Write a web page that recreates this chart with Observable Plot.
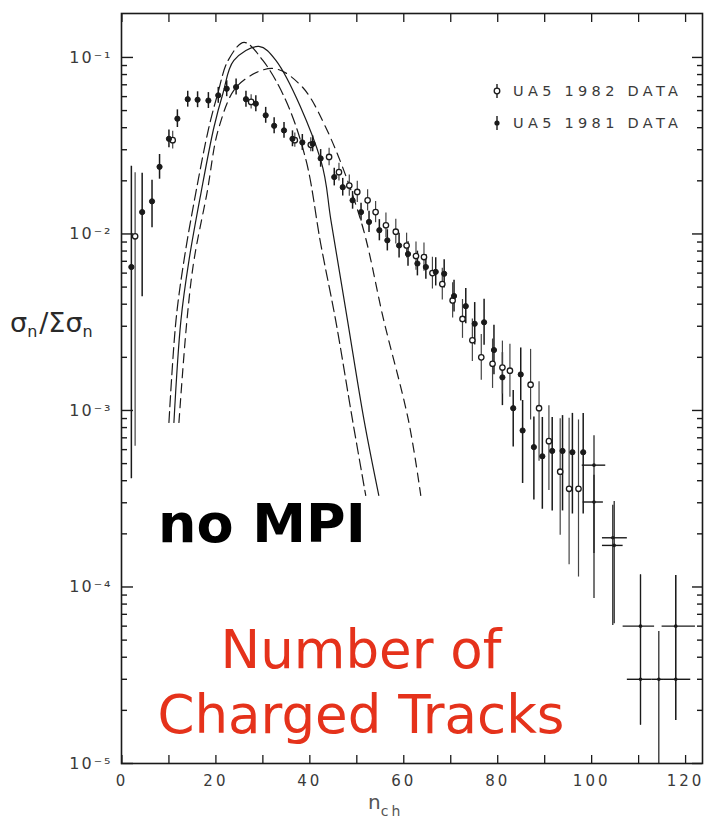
<!DOCTYPE html>
<html><head><meta charset="utf-8">
<script src="https://cdn.jsdelivr.net/npm/d3@7"></script>
<script src="https://cdn.jsdelivr.net/npm/@observablehq/plot@0.6"></script>
<style>body{margin:0;background:#fff;} svg{display:block;}</style>
</head><body><div id="chart"></div>
<script>
// ---- UA5 1981 data (filled points): n_ch, sigma_n/sum, error down / up (in decades)
const n81 = [2, 4.3, 6.4, 8, 10, 11.8, 14, 16.1, 18.4, 20.5, 22.3, 24.3, 26.4, 28.5, 30.6, 32.4, 34.5, 36.3, 38.4, 40.6, 42.3, 45.2, 47, 49.1, 50.9, 52.6, 54.8, 56.5, 59, 60.9, 62.9, 64.7, 66.8, 68.6, 70.7, 73.2, 75.1, 77.1, 79.2, 81, 83.3, 84.9, 85.3, 87.7, 89.5, 91.6, 93.8, 95.9, 98.2];
const v81 = [6.5e-3, 1.33e-2, 1.53e-2, 2.4e-2, 3.46e-2, 4.5e-2, 5.8e-2, 5.76e-2, 5.7e-2, 6.1e-2, 6.65e-2, 6.8e-2, 5.8e-2, 5.47e-2, 4.7e-2, 4.1e-2, 3.86e-2, 3.46e-2, 3.3e-2, 3.24e-2, 2.68e-2, 2.1e-2, 1.84e-2, 1.55e-2, 1.33e-2, 1.17e-2, 1.05e-2, 9.2e-3, 8.6e-3, 7.7e-3, 6.8e-3, 6.5e-3, 6.1e-3, 5.95e-3, 4.45e-3, 3.9e-3, 3.1e-3, 3.16e-3, 2.2e-3, 1.54e-3, 1.03e-3, 1.6e-3, 7.7e-4, 6.2e-4, 5.5e-4, 5.9e-4, 5.9e-4, 5.8e-4, 5.8e-4];
const eLo81 = [1.2, 0.48, 0.15, 0.07, 0.05, 0.05, 0.045, 0.045, 0.045, 0.045, 0.045, 0.045, 0.045, 0.045, 0.045, 0.045, 0.045, 0.045, 0.045, 0.045, 0.05, 0.05, 0.05, 0.05, 0.05, 0.06, 0.06, 0.06, 0.07, 0.07, 0.07, 0.07, 0.08, 0.08, 0.09, 0.1, 0.12, 0.13, 0.14, 0.16, 0.22, 0.15, 0.3, 0.3, 0.3, 0.34, 0.34, 0.35, 0.35];
const eHi81 = [0.57, 0.22, 0.12, 0.07, 0.05, 0.05, 0.045, 0.045, 0.045, 0.045, 0.045, 0.045, 0.045, 0.045, 0.045, 0.045, 0.045, 0.045, 0.045, 0.045, 0.05, 0.05, 0.05, 0.05, 0.05, 0.06, 0.06, 0.06, 0.07, 0.07, 0.07, 0.07, 0.08, 0.08, 0.09, 0.1, 0.12, 0.13, 0.14, 0.14, 0.1, 0.15, 0.17, 0.17, 0.22, 0.19, 0.2, 0.22, 0.22];

// ---- UA5 1982 data (open points)
const n82 = [2.8, 10.8, 27.5, 36.8, 40.2, 44.1, 46.2, 48.4, 50.1, 52.3, 54, 56.2, 58.3, 60.6, 62.6, 64.3, 66.1, 68.2, 70.4, 72.5, 74.6, 76.5, 78.9, 81, 82.6, 87, 88.8, 90.9, 93.3, 95.2, 97.2];
const v82 = [9.7e-3, 3.4e-2, 5.6e-2, 3.4e-2, 3.2e-2, 2.73e-2, 2.24e-2, 1.88e-2, 1.73e-2, 1.55e-2, 1.33e-2, 1.12e-2, 1.03e-2, 8.6e-3, 7.5e-3, 7.4e-3, 6.0e-3, 5.2e-3, 4.2e-3, 3.3e-3, 2.5e-3, 2.0e-3, 1.84e-3, 1.75e-3, 1.68e-3, 1.4e-3, 1.03e-3, 6.7e-4, 4.5e-4, 3.6e-4, 3.6e-4];
const eLo82 = [1.19, 0.05, 0.04, 0.04, 0.04, 0.05, 0.05, 0.06, 0.06, 0.06, 0.06, 0.07, 0.07, 0.07, 0.08, 0.08, 0.09, 0.09, 0.1, 0.11, 0.12, 0.13, 0.14, 0.15, 0.15, 0.2, 0.3, 0.28, 0.36, 0.43, 0.5];
const eHi82 = [0.36, 0.05, 0.04, 0.04, 0.04, 0.05, 0.05, 0.06, 0.06, 0.06, 0.06, 0.07, 0.07, 0.07, 0.08, 0.08, 0.09, 0.09, 0.1, 0.11, 0.12, 0.13, 0.14, 0.15, 0.15, 0.2, 0.15, 0.2, 0.3, 0.4, 0.39];

// ---- wide-bin points at high multiplicity (value, bin edges, error range)
const nW   = [100.5, 100.5, 104.5, 104.8, 110.4, 117.9, 110.4, 114.3, 117.9];
const vW   = [4.9e-4, 3.03e-4, 1.9e-4, 1.72e-4, 6.0e-5, 6.0e-5, 3.0e-5, 3.0e-5, 3.0e-5];
const nWlo = [98, 98.2, 102.3, 102.3, 106.7, 115.0, 107.6, 112.9, 115.3];
const nWhi = [103, 102.5, 107.6, 106.7, 113.4, 122.1, 112.9, 115.3, 121.1];
const vWlo = [1.55e-4, 8.6e-5, 6.05e-5, 6.2e-5, 1.65e-5, 1.75e-5, 1.65e-5, 1.0e-5, 1.75e-5];
const vWhi = [7.2e-4, 4.3e-4, 2.9e-4, 3.05e-4, 1.17e-4, 1.16e-4, 1.17e-4, 5.6e-5, 1.16e-4];

// ---- model curves (no MPI)
const curveAn = [10.0, 11.5, 13.2, 15.7, 18.5, 20.4, 22.6, 26.0, 30.0, 34.9, 39.2, 42.3, 45.5, 49.1, 51.9];
const curveAv = [8.55e-4, 3.24e-3, 7.07e-3, 1.70e-2, 4.01e-2, 6.25e-2, 9.62e-2, 0.1216, 0.0962, 0.057, 0.0261, 8.83e-3, 3.24e-3, 8.78e-4, 3.30e-4];
const curveBn = [11.06, 12.55, 14.26, 16.81, 19.57, 21.49, 23.83, 29.15, 32.77, 42.34, 44.5, 48.02, 51.55, 54.68];
const curveBv = [8.55e-4, 3.24e-3, 7.07e-3, 1.70e-2, 4.01e-2, 6.25e-2, 9.62e-2, 0.1154, 0.0962, 0.0261, 0.0119, 3.24e-3, 8.78e-4, 3.30e-4];
const curveCn = [12.13, 13.83, 15.32, 18.09, 20.64, 24.68, 32.1, 38.09, 43.4, 50.85, 55.74, 61.0, 63.62];
const curveCv = [8.55e-4, 3.24e-3, 7.07e-3, 1.70e-2, 4.01e-2, 6.94e-2, 0.0866, 0.0694, 0.0401, 0.01193, 3.24e-3, 8.78e-4, 3.30e-4];

// ---- ticks
const xTicks = [0, 10, 20, 30, 40, 50, 60, 70, 80, 90, 100, 110, 120];
const xLabels = [0, 20, 40, 60, 80, 100, 120];
const yMajor = [1e-5, 1e-4, 1e-3, 1e-2, 1e-1];
const yMinor = [];
for (const d of [1e-5, 1e-4, 1e-3, 1e-2, 1e-1]) for (let k = 2; k <= 9; k++) if (d * k < 0.177) yMinor.push(d * k);

// ---- build tables
const d81 = n81.map((n, i) => ({n, v: v81[i], lo: v81[i] / 10 ** eLo81[i], hi: v81[i] * 10 ** eHi81[i]}));
const d82 = n82.map((n, i) => ({n, v: v82[i], lo: v82[i] / 10 ** eLo82[i], hi: v82[i] * 10 ** eHi82[i]}));
const dW = nW.map((n, i) => ({n, v: vW[i], nlo: nWlo[i], nhi: nWhi[i], lo: vWlo[i], hi: vWhi[i]}));
const cA = curveAn.map((n, i) => ({n, v: curveAv[i]}));
const cB = curveBn.map((n, i) => ({n, v: curveBv[i]}));
const cC = curveCn.map((n, i) => ({n, v: curveCv[i]}));

const W = 708, H = 824, mL = 121, mR = 6, mT = 13, mB = 61;
const pw = W - mL - mR, ph = H - mT - mB;
const sup = {"-": "⁻", "0": "⁰", "1": "¹", "2": "²", "3": "³", "4": "⁴", "5": "⁵"};
const ink = "#1a1a1a";

const svg = Plot.plot({
  width: W, height: H,
  marginLeft: mL, marginRight: mR, marginTop: mT, marginBottom: mB,
  style: {fontFamily: "DejaVu Sans", background: "#fff", color: "#333"},
  x: {domain: [-0.1, 123.6]},
  y: {type: "log", domain: [1e-5, 0.1774]},
  marks: [
    // model curves
    Plot.line(cA, {x: "n", y: "v", curve: "catmull-rom", stroke: ink, strokeWidth: 1.2, strokeDasharray: "11,5", clip: true}),
    Plot.line(cB, {x: "n", y: "v", curve: "catmull-rom", stroke: ink, strokeWidth: 1.2, clip: true}),
    Plot.line(cC, {x: "n", y: "v", curve: "catmull-rom", stroke: ink, strokeWidth: 1.2, strokeDasharray: "9,6", clip: true}),
    // error bars
    Plot.ruleX(d81, {x: "n", y1: "lo", y2: "hi", stroke: ink, strokeWidth: 1.5, clip: true}),
    Plot.ruleX(d82, {x: "n", y1: "lo", y2: "hi", stroke: "#444", strokeWidth: 1.2, clip: true}),
    Plot.ruleX(dW, {x: "n", y1: "lo", y2: "hi", stroke: ink, strokeWidth: 1.2, clip: true}),
    Plot.ruleY(dW, {y: "v", x1: "nlo", x2: "nhi", stroke: ink, strokeWidth: 1.4, clip: true}),
    // points
    Plot.dot(d82, {x: "n", y: "v", r: 2.7, fill: "#fff", stroke: ink, strokeWidth: 1.3}),
    Plot.dot(d81, {x: "n", y: "v", r: 2.6, fill: ink, stroke: ink, strokeWidth: 1}),
    Plot.dot(dW, {x: "n", y: "v", r: 1.8, fill: ink}),
    // inward ticks
    Plot.tickX(xTicks, {x: d => d, insetTop: ph - 8, stroke: ink, strokeWidth: 1.3}),
    Plot.tickX(xTicks, {x: d => d, insetBottom: ph - 9, stroke: ink, strokeWidth: 1.3}),
    Plot.tickY(yMajor, {y: d => d, insetRight: pw - 12, stroke: ink, strokeWidth: 1.4}),
    Plot.tickY(yMinor, {y: d => d, insetRight: pw - 6, stroke: ink, strokeWidth: 1.4}),
    Plot.tickY(yMajor, {y: d => d, insetLeft: pw - 10, stroke: ink, strokeWidth: 1.4}),
    Plot.tickY(yMinor, {y: d => d, insetLeft: pw - 5, stroke: ink, strokeWidth: 1.4}),
    Plot.frame({stroke: ink, strokeWidth: 1.6}),
    // axes labels
    Plot.axisX(xLabels, {tickSize: 0, tickPadding: 12, fontSize: 15, label: null, fill: "#3a3a3a"}),
    Plot.axisY(yMajor, {tickSize: 0, tickPadding: 9, fontSize: 16, label: null, fill: "#3a3a3a",
      tickFormat: d => "10" + String(Math.round(Math.log10(d))).split("").map(c => sup[c]).join("")})
  ]
});

const s = d3.select(svg);
s.selectAll('g[aria-label="x-axis tick label"] text').attr("letter-spacing", "3px");
s.selectAll('g[aria-label="y-axis tick label"] text').attr("letter-spacing", "2px");

// y label sigma_n / Sigma sigma_n
const yl = s.append("text").attr("x", 10).attr("y", 332).attr("font-size", 27).attr("fill", "#2a2a2a")
  .attr("font-family", "DejaVu Sans").attr("text-anchor", "start");
yl.append("tspan").text("σ");
yl.append("tspan").attr("font-size", 16).attr("dy", 5).text("n");
yl.append("tspan").attr("font-size", 27).attr("dy", -5).attr("dx", 2).text("/Σσ");
yl.append("tspan").attr("font-size", 16).attr("dy", 5).text("n");

// x label n_ch
const xl = s.append("text").attr("x", 368).attr("y", 809).attr("font-size", 20).attr("fill", "#555")
  .attr("font-family", "DejaVu Sans").attr("text-anchor", "start");
xl.append("tspan").text("n");
xl.append("tspan").attr("font-size", 14).attr("dy", 7).attr("letter-spacing", "3px").text("ch");

// legend
const lg = s.append("g").attr("font-family", "DejaVu Sans").attr("font-size", 14.5).attr("fill", "#3a3a3a")
  .attr("text-anchor", "start");
lg.append("line").attr("x1", 497).attr("x2", 497).attr("y1", 84).attr("y2", 98).attr("stroke", ink).attr("stroke-width", 1.4);
lg.append("circle").attr("cx", 497).attr("cy", 91).attr("r", 2.8).attr("fill", "#fff").attr("stroke", ink).attr("stroke-width", 1.3);
lg.append("text").attr("x", 513).attr("y", 96).attr("letter-spacing", "4.3px").text("UA5 1982 DATA");
lg.append("line").attr("x1", 497).attr("x2", 497).attr("y1", 116).attr("y2", 130).attr("stroke", ink).attr("stroke-width", 1.4);
lg.append("circle").attr("cx", 497).attr("cy", 123).attr("r", 2.6).attr("fill", ink);
lg.append("text").attr("x", 513).attr("y", 128).attr("letter-spacing", "4.3px").text("UA5 1981 DATA");

// annotations
s.append("text").attr("x", 158).attr("y", 542).attr("text-anchor", "start").attr("font-family", "DejaVu Sans").attr("font-weight", "bold")
  .attr("font-size", 54).attr("fill", "#000").text("no MPI");
s.append("text").attr("x", 361).attr("y", 668).attr("text-anchor", "middle").attr("font-family", "DejaVu Sans")
  .attr("font-size", 53).attr("fill", "#e5321b").text("Number of");
s.append("text").attr("x", 361).attr("y", 733).attr("text-anchor", "middle").attr("font-family", "DejaVu Sans")
  .attr("font-size", 53).attr("fill", "#e5321b").text("Charged Tracks");

document.getElementById("chart").appendChild(svg);
</script>
</body></html>
